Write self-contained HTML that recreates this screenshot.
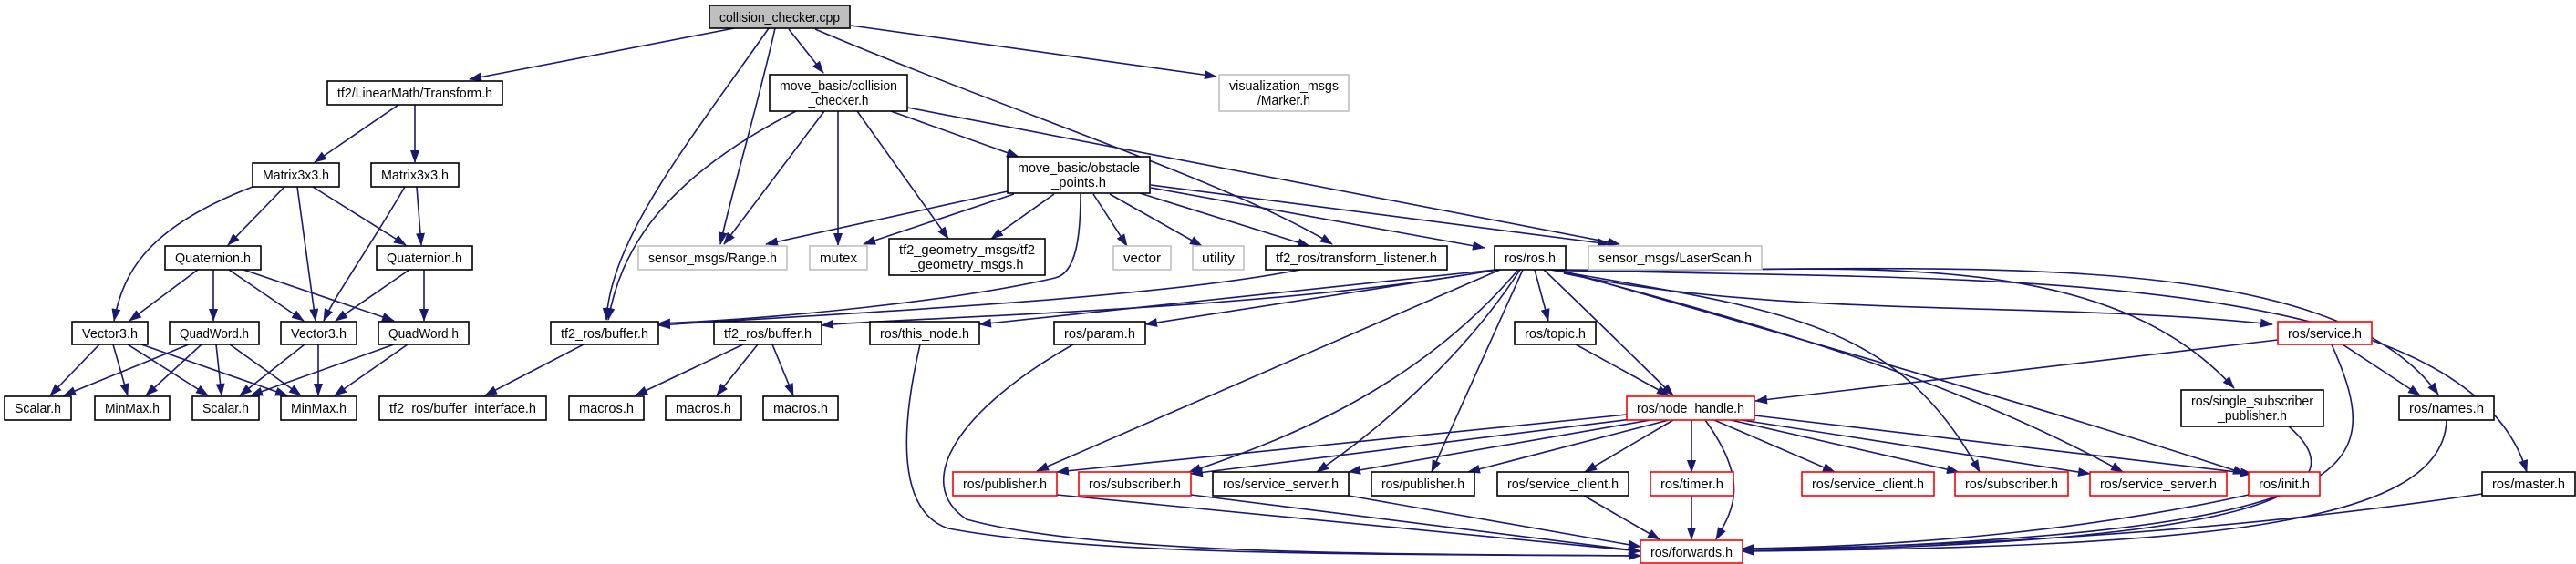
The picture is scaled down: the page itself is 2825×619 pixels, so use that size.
<!DOCTYPE html>
<html><head><meta charset="utf-8"><style>
html,body{margin:0;padding:0;background:#fff;}
svg{display:block;}
text{font-family:"Liberation Sans",sans-serif;font-size:15px;fill:#000;}
.e{fill:none;stroke:#191970;stroke-width:1.6;marker-end:url(#a);}
.n{fill:#fff;stroke:#000;stroke-width:1.6;}
.g{fill:#fff;stroke:#bfbfbf;stroke-width:1.6;}
.r{fill:#fff;stroke:#ff0000;stroke-width:1.6;}
</style></head><body>
<svg width="2825" height="619" viewBox="0 0 2825 619" xmlns="http://www.w3.org/2000/svg">
<defs><marker id="a" markerUnits="userSpaceOnUse" markerWidth="14" markerHeight="10" refX="13" refY="5" orient="auto"><path d="M0,0 L14,5 L0,10 z" fill="#191970"/></marker></defs>
<g>
<path class="e" d="M843,31 C760,150 670,260 665,351"/>
<path class="e" d="M850,31 C830,120 800,220 790,268"/>
<path class="e" d="M865,32 L903,80"/>
<path class="e" d="M894,32 C1100,120 1350,200 1461,268"/>
<path class="e" d="M933,28 L1334,84"/>
<path class="e" d="M805,31 L515,87"/>
<path class="e" d="M437,115 L345,178"/>
<path class="e" d="M455,115 L455,178"/>
<path class="e" d="M277,205 C160,250 135,300 125,352"/>
<path class="e" d="M312,205 L250,269"/>
<path class="e" d="M326,205 L346,352"/>
<path class="e" d="M343,205 L445,269"/>
<path class="e" d="M444,205 C400,280 370,320 355,352"/>
<path class="e" d="M457,205 L462,269"/>
<path class="e" d="M217,296 L142,352"/>
<path class="e" d="M234,296 L234,352"/>
<path class="e" d="M251,296 L333,352"/>
<path class="e" d="M267,296 L432,352"/>
<path class="e" d="M449,296 L368,352"/>
<path class="e" d="M465,296 L465,352"/>
<path class="e" d="M109,378 L55,434"/>
<path class="e" d="M124,378 L140,434"/>
<path class="e" d="M140,378 L228,434"/>
<path class="e" d="M155,378 L315,434"/>
<path class="e" d="M207,378 L70,434"/>
<path class="e" d="M221,378 L160,434"/>
<path class="e" d="M237,378 L243,434"/>
<path class="e" d="M252,378 L330,434"/>
<path class="e" d="M334,378 L263,434"/>
<path class="e" d="M349,378 L349,434"/>
<path class="e" d="M432,378 L275,434"/>
<path class="e" d="M447,378 L367,434"/>
<path class="e" d="M640,378 L532,434"/>
<path class="e" d="M815,378 L697,434"/>
<path class="e" d="M831,378 L786,434"/>
<path class="e" d="M847,378 L870,434"/>
<path class="e" d="M873,122 C720,200 680,280 667,351"/>
<path class="e" d="M904,122 L794,268"/>
<path class="e" d="M919,122 L919,269"/>
<path class="e" d="M940,122 L1040,262"/>
<path class="e" d="M977,122 L1117,172"/>
<path class="e" d="M995,118 L1776,268"/>
<path class="e" d="M1105,210 L840,268"/>
<path class="e" d="M1112,213 L947,268"/>
<path class="e" d="M1156,213 L1087,262"/>
<path class="e" d="M1185,213 C1185,260 1180,300 1157,305 C1050,330 850,350 722,355"/>
<path class="e" d="M1199,213 L1236,270"/>
<path class="e" d="M1217,213 L1318,270"/>
<path class="e" d="M1250,212 L1436,270"/>
<path class="e" d="M1262,206 L1628,272"/>
<path class="e" d="M1262,203 L1765,268"/>
<path class="e" d="M1426,296 C1250,330 900,345 722,357"/>
<path class="e" d="M1640,296 C1400,340 1000,348 901,357"/>
<path class="e" d="M1640,296 L1074,356"/>
<path class="e" d="M1644,296 L1256,356"/>
<path class="e" d="M1645,296 L1137,517"/>
<path class="e" d="M1665,296 C1560,420 1420,480 1304,518"/>
<path class="e" d="M1667,296 C1600,400 1500,480 1444,518"/>
<path class="e" d="M1670,296 L1570,518"/>
<path class="e" d="M1683,296 L1698,352"/>
<path class="e" d="M1693,296 C1760,360 1800,400 1835,434"/>
<path class="e" d="M1700,296 C1950,340 2080,350 2171,518"/>
<path class="e" d="M1705,296 C1950,360 2150,420 2328,518"/>
<path class="e" d="M1710,296 C2000,380 2250,450 2462,520"/>
<path class="e" d="M1715,300 C1950,350 2250,330 2492,356"/>
<path class="e" d="M1715,298 C2000,300 2300,260 2450,426"/>
<path class="e" d="M1715,296 C2100,300 2550,260 2674,433"/>
<path class="e" d="M1715,296 C2100,310 2700,280 2771,518"/>
<path class="e" d="M1728,378 L1830,434"/>
<path class="e" d="M2498,373 L1925,440"/>
<path class="e" d="M2569,378 L2654,434"/>
<path class="e" d="M2557,378 C2620,520 2600,585 1911,605"/>
<path class="e" d="M2683,461 C2680,580 2400,600 1911,605"/>
<path class="e" d="M2510,468 C2570,520 2570,595 1911,605"/>
<path class="e" d="M2722,542 C2400,590 2100,600 1911,603"/>
<path class="e" d="M2466,543 C2300,580 2100,600 1911,602"/>
<path class="e" d="M1784,455 L1159,518"/>
<path class="e" d="M1790,460 L1306,520"/>
<path class="e" d="M1810,461 L1479,518"/>
<path class="e" d="M1830,461 L1610,518"/>
<path class="e" d="M1835,461 L1738,518"/>
<path class="e" d="M1855,461 L1855,518"/>
<path class="e" d="M1870,461 C1920,530 1900,560 1882,592"/>
<path class="e" d="M1880,461 L2012,518"/>
<path class="e" d="M1898,461 L2148,518"/>
<path class="e" d="M1910,461 L2292,520"/>
<path class="e" d="M1924,456 L2470,520"/>
<path class="e" d="M1159,543 L1799,605"/>
<path class="e" d="M1306,543 L1799,605"/>
<path class="e" d="M1479,544 L1799,600"/>
<path class="e" d="M1737,544 L1820,592"/>
<path class="e" d="M1855,544 L1855,592"/>
<path class="e" d="M1009,378 C990,460 980,560 1040,580 C1200,610 1500,608 1799,610"/>
<path class="e" d="M1177,378 C1050,450 1000,530 1060,570 C1200,608 1500,608 1799,610"/>
</g>
<g>
<rect class="n" x="778" y="6" width="154" height="25" style="fill:#bfbfbf"/><text x="855" y="24" text-anchor="middle" textLength="132" lengthAdjust="spacingAndGlyphs">collision_checker.cpp</text>
<rect class="n" x="359" y="89" width="192" height="26"/><text x="455" y="107" text-anchor="middle" textLength="170" lengthAdjust="spacingAndGlyphs">tf2/LinearMath/Transform.h</text>
<rect class="n" x="277" y="179" width="95" height="26"/><text x="324.5" y="197" text-anchor="middle" textLength="73" lengthAdjust="spacingAndGlyphs">Matrix3x3.h</text>
<rect class="n" x="407" y="179" width="96" height="26"/><text x="455" y="197" text-anchor="middle" textLength="74" lengthAdjust="spacingAndGlyphs">Matrix3x3.h</text>
<rect class="n" x="181" y="270" width="105" height="26"/><text x="233.5" y="288" text-anchor="middle" textLength="83" lengthAdjust="spacingAndGlyphs">Quaternion.h</text>
<rect class="n" x="413" y="270" width="105" height="26"/><text x="465.5" y="288" text-anchor="middle" textLength="83" lengthAdjust="spacingAndGlyphs">Quaternion.h</text>
<rect class="n" x="79" y="353" width="83" height="25"/><text x="120.5" y="371" text-anchor="middle" textLength="61" lengthAdjust="spacingAndGlyphs">Vector3.h</text>
<rect class="n" x="186" y="353" width="98" height="25"/><text x="235" y="371" text-anchor="middle" textLength="76" lengthAdjust="spacingAndGlyphs">QuadWord.h</text>
<rect class="n" x="308" y="353" width="83" height="25"/><text x="349.5" y="371" text-anchor="middle" textLength="61" lengthAdjust="spacingAndGlyphs">Vector3.h</text>
<rect class="n" x="415" y="353" width="99" height="25"/><text x="464.5" y="371" text-anchor="middle" textLength="77" lengthAdjust="spacingAndGlyphs">QuadWord.h</text>
<rect class="n" x="604" y="353" width="118" height="25"/><text x="663" y="371" text-anchor="middle" textLength="96" lengthAdjust="spacingAndGlyphs">tf2_ros/buffer.h</text>
<rect class="n" x="783" y="353" width="118" height="25"/><text x="842" y="371" text-anchor="middle" textLength="96" lengthAdjust="spacingAndGlyphs">tf2_ros/buffer.h</text>
<rect class="n" x="5" y="435" width="73" height="26"/><text x="41.5" y="453" text-anchor="middle" textLength="51" lengthAdjust="spacingAndGlyphs">Scalar.h</text>
<rect class="n" x="104" y="435" width="82" height="26"/><text x="145" y="453" text-anchor="middle" textLength="60" lengthAdjust="spacingAndGlyphs">MinMax.h</text>
<rect class="n" x="211" y="435" width="73" height="26"/><text x="247.5" y="453" text-anchor="middle" textLength="51" lengthAdjust="spacingAndGlyphs">Scalar.h</text>
<rect class="n" x="308" y="435" width="83" height="26"/><text x="349.5" y="453" text-anchor="middle" textLength="61" lengthAdjust="spacingAndGlyphs">MinMax.h</text>
<rect class="n" x="416" y="435" width="183" height="26"/><text x="507.5" y="453" text-anchor="middle" textLength="161" lengthAdjust="spacingAndGlyphs">tf2_ros/buffer_interface.h</text>
<rect class="n" x="624" y="435" width="82" height="26"/><text x="665" y="453" text-anchor="middle" textLength="60" lengthAdjust="spacingAndGlyphs">macros.h</text>
<rect class="n" x="730" y="435" width="83" height="26"/><text x="771.5" y="453" text-anchor="middle" textLength="61" lengthAdjust="spacingAndGlyphs">macros.h</text>
<rect class="n" x="837" y="435" width="82" height="26"/><text x="878" y="453" text-anchor="middle" textLength="60" lengthAdjust="spacingAndGlyphs">macros.h</text>
<rect class="n" x="844" y="82" width="151" height="40"/><text x="919.5" y="99" text-anchor="middle" textLength="129" lengthAdjust="spacingAndGlyphs">move_basic/collision</text><text x="919.5" y="115" text-anchor="middle" textLength="66" lengthAdjust="spacingAndGlyphs">_checker.h</text>
<rect class="g" x="700" y="270" width="163" height="26"/><text x="781.5" y="288" text-anchor="middle" textLength="141" lengthAdjust="spacingAndGlyphs">sensor_msgs/Range.h</text>
<rect class="g" x="888" y="270" width="63" height="26"/><text x="919.5" y="288" text-anchor="middle" textLength="41" lengthAdjust="spacingAndGlyphs">mutex</text>
<rect class="g" x="1337" y="82" width="142" height="40"/><text x="1408" y="99" text-anchor="middle" textLength="120" lengthAdjust="spacingAndGlyphs">visualization_msgs</text><text x="1408" y="115" text-anchor="middle" textLength="58" lengthAdjust="spacingAndGlyphs">/Marker.h</text>
<rect class="n" x="1105" y="172" width="156" height="40"/><text x="1183" y="189" text-anchor="middle" textLength="134" lengthAdjust="spacingAndGlyphs">move_basic/obstacle</text><text x="1183" y="205" text-anchor="middle" textLength="60" lengthAdjust="spacingAndGlyphs">_points.h</text>
<rect class="n" x="975" y="262" width="171" height="40"/><text x="1060.5" y="279" text-anchor="middle" textLength="149" lengthAdjust="spacingAndGlyphs">tf2_geometry_msgs/tf2</text><text x="1060.5" y="295" text-anchor="middle" textLength="124" lengthAdjust="spacingAndGlyphs">_geometry_msgs.h</text>
<rect class="g" x="1221" y="270" width="63" height="26"/><text x="1252.5" y="288" text-anchor="middle" textLength="41" lengthAdjust="spacingAndGlyphs">vector</text>
<rect class="g" x="1308" y="270" width="56" height="26"/><text x="1336" y="288" text-anchor="middle" textLength="36" lengthAdjust="spacingAndGlyphs">utility</text>
<rect class="n" x="1388" y="270" width="199" height="26"/><text x="1487.5" y="288" text-anchor="middle" textLength="177" lengthAdjust="spacingAndGlyphs">tf2_ros/transform_listener.h</text>
<rect class="n" x="1639" y="270" width="78" height="26"/><text x="1678" y="288" text-anchor="middle" textLength="56" lengthAdjust="spacingAndGlyphs">ros/ros.h</text>
<rect class="g" x="1742" y="270" width="190" height="26"/><text x="1837" y="288" text-anchor="middle" textLength="168" lengthAdjust="spacingAndGlyphs">sensor_msgs/LaserScan.h</text>
<rect class="n" x="954" y="353" width="120" height="25"/><text x="1014" y="371" text-anchor="middle" textLength="98" lengthAdjust="spacingAndGlyphs">ros/this_node.h</text>
<rect class="n" x="1156" y="353" width="100" height="25"/><text x="1206" y="371" text-anchor="middle" textLength="78" lengthAdjust="spacingAndGlyphs">ros/param.h</text>
<rect class="n" x="1661" y="353" width="89" height="25"/><text x="1705.5" y="371" text-anchor="middle" textLength="67" lengthAdjust="spacingAndGlyphs">ros/topic.h</text>
<rect class="r" x="2498" y="353" width="103" height="25"/><text x="2549.5" y="371" text-anchor="middle" textLength="81" lengthAdjust="spacingAndGlyphs">ros/service.h</text>
<rect class="r" x="1784" y="435" width="140" height="26"/><text x="1854" y="453" text-anchor="middle" textLength="118" lengthAdjust="spacingAndGlyphs">ros/node_handle.h</text>
<rect class="n" x="2392" y="428" width="156" height="40"/><text x="2470" y="445" text-anchor="middle" textLength="134" lengthAdjust="spacingAndGlyphs">ros/single_subscriber</text><text x="2470" y="461" text-anchor="middle" textLength="76" lengthAdjust="spacingAndGlyphs">_publisher.h</text>
<rect class="n" x="2631" y="435" width="104" height="26"/><text x="2683" y="453" text-anchor="middle" textLength="82" lengthAdjust="spacingAndGlyphs">ros/names.h</text>
<rect class="r" x="1045" y="518" width="114" height="26"/><text x="1102" y="536" text-anchor="middle" textLength="92" lengthAdjust="spacingAndGlyphs">ros/publisher.h</text>
<rect class="r" x="1183" y="518" width="123" height="26"/><text x="1244.5" y="536" text-anchor="middle" textLength="101" lengthAdjust="spacingAndGlyphs">ros/subscriber.h</text>
<rect class="n" x="1330" y="518" width="149" height="26"/><text x="1404.5" y="536" text-anchor="middle" textLength="127" lengthAdjust="spacingAndGlyphs">ros/service_server.h</text>
<rect class="n" x="1504" y="518" width="113" height="26"/><text x="1560.5" y="536" text-anchor="middle" textLength="91" lengthAdjust="spacingAndGlyphs">ros/publisher.h</text>
<rect class="n" x="1642" y="518" width="144" height="26"/><text x="1714" y="536" text-anchor="middle" textLength="122" lengthAdjust="spacingAndGlyphs">ros/service_client.h</text>
<rect class="r" x="1810" y="518" width="91" height="26"/><text x="1855.5" y="536" text-anchor="middle" textLength="69" lengthAdjust="spacingAndGlyphs">ros/timer.h</text>
<rect class="r" x="1976" y="518" width="145" height="26"/><text x="2048.5" y="536" text-anchor="middle" textLength="123" lengthAdjust="spacingAndGlyphs">ros/service_client.h</text>
<rect class="r" x="2144" y="518" width="124" height="26"/><text x="2206" y="536" text-anchor="middle" textLength="102" lengthAdjust="spacingAndGlyphs">ros/subscriber.h</text>
<rect class="r" x="2292" y="518" width="150" height="26"/><text x="2367" y="536" text-anchor="middle" textLength="128" lengthAdjust="spacingAndGlyphs">ros/service_server.h</text>
<rect class="r" x="2466" y="518" width="78" height="26"/><text x="2505" y="536" text-anchor="middle" textLength="56" lengthAdjust="spacingAndGlyphs">ros/init.h</text>
<rect class="n" x="2722" y="518" width="102" height="26"/><text x="2773" y="536" text-anchor="middle" textLength="80" lengthAdjust="spacingAndGlyphs">ros/master.h</text>
<rect class="r" x="1799" y="593" width="112" height="25"/><text x="1855" y="611" text-anchor="middle" textLength="90" lengthAdjust="spacingAndGlyphs">ros/forwards.h</text>
</g>
</svg>
</body></html>
